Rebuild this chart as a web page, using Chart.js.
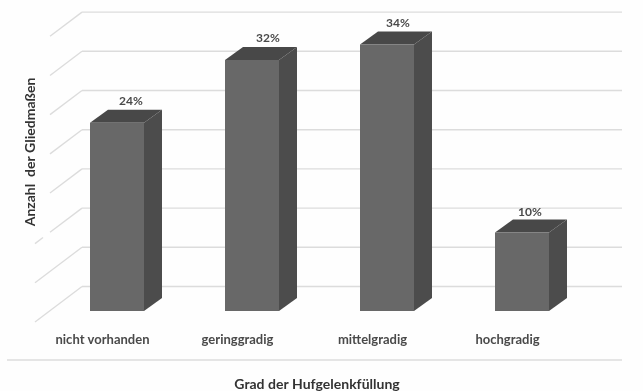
<!DOCTYPE html>
<html lang="de">
<head>
<meta charset="utf-8">
<title>Grad der Hufgelenkfüllung</title>
<style>
  html, body { margin: 0; padding: 0; background: #fefefe; }
  canvas { display: block; }
</style>
<script src="https://cdn.jsdelivr.net/npm/chart.js@4/dist/chart.umd.min.js"></script>
</head>
<body>
<canvas id="chart" width="643" height="391"></canvas>
<script>
const categories = ["nicht vorhanden", "geringgradig", "mittelgradig", "hochgradig"];
const percentages = [24, 32, 34, 10];
const valueAxisTitle = "Anzahl  der Gliedmaßen";
const categoryAxisTitle = "Grad der Hufgelenkfüllung";

const FONT = "Lato, 'Open Sans', sans-serif";
const DEPTH_X = 18;
const DEPTH_Y = 13;
const WALL_X = 82;
const WALL_RIGHT = 622;
const WALL_RISE = 24.5;
const SIDE_SLOPE = 0.755;
const GRID_COLOR = "#dcdcdc";
// Horizontal and vertical nudges that seat each value label over its bar top.
const LABEL_SHIFT_X = [14, 16, 11, 8];
const LABEL_SHIFT_Y = [-22, -22, -21, -20];

function polygon(ctx, points, fill) {
  ctx.beginPath();
  points.forEach(([x, y], i) => (i ? ctx.lineTo(x, y) : ctx.moveTo(x, y)));
  ctx.closePath();
  ctx.fillStyle = fill;
  ctx.fill();
}

function segment(ctx, x1, y1, x2, y2) {
  ctx.beginPath();
  ctx.moveTo(x1, y1);
  ctx.lineTo(x2, y2);
  ctx.stroke();
}

// Back wall grid, floor and side wall lines, extruded bar faces.
const extrusion = {
  id: "extrusion",
  beforeDatasetsDraw(chart) {
    const { ctx, scales: { y } } = chart;
    ctx.save();
    ctx.strokeStyle = GRID_COLOR;
    ctx.lineWidth = 1.4;
    y.ticks.forEach(({ value }) => {
      const wallY = y.getPixelForValue(value) - WALL_RISE;
      segment(ctx, WALL_X, wallY, WALL_RIGHT, wallY);
      const sideAt = (x) => wallY + (WALL_X - x) * SIDE_SLOPE;
      if (value >= 15) {
        segment(ctx, 50, sideAt(50), WALL_X, wallY);
      } else if (value === 10) {
        segment(ctx, 50, sideAt(50), WALL_X, wallY);
        segment(ctx, 35, sideAt(35), 43, sideAt(43));
      } else {
        segment(ctx, 35, sideAt(35), WALL_X, wallY);
      }
    });
    segment(ctx, 7, 360, WALL_RIGHT, 360);

    chart.getDatasetMeta(0).data.forEach((bar) => {
      const half = bar.width / 2;
      const left = bar.x - half;
      const right = bar.x + half;
      polygon(ctx, [[right, bar.y], [right + DEPTH_X, bar.y - DEPTH_Y],
        [right + DEPTH_X, bar.base - DEPTH_Y], [right, bar.base]], "#4c4c4c");
      polygon(ctx, [[left, bar.y], [left + DEPTH_X, bar.y - DEPTH_Y],
        [right + DEPTH_X, bar.y - DEPTH_Y], [right, bar.y]], "#484848");
    });
    ctx.restore();
  },
  // Value labels above each bar, plus both axis titles at their own offsets.
  afterDatasetsDraw(chart) {
    const { ctx } = chart;
    ctx.save();
    ctx.textAlign = "center";
    ctx.textBaseline = "middle";
    ctx.fillStyle = "#4a4a4a";
    ctx.font = `bold 12px ${FONT}`;
    chart.getDatasetMeta(0).data.forEach((bar, i) => {
      ctx.fillText(percentages[i] + "%", bar.x + LABEL_SHIFT_X[i], bar.y + LABEL_SHIFT_Y[i]);
    });
    ctx.fillStyle = "#333333";
    ctx.font = `bold 14px ${FONT}`;
    ctx.fillText(categoryAxisTitle, 317, 384.5);
    ctx.translate(30, 152);
    ctx.rotate(-Math.PI / 2);
    ctx.font = `bold 14px ${FONT}`;
    ctx.fillText(valueAxisTitle, 0, 0);
    ctx.restore();
  }
};

new Chart(document.getElementById("chart"), {
  type: "bar",
  data: {
    labels: categories,
    datasets: [{
      data: percentages,
      backgroundColor: "#686868",
      barPercentage: 0.4,
      categoryPercentage: 1
    }]
  },
  options: {
    responsive: false,
    animation: false,
    layout: { padding: { left: 49.5, right: 53.5, top: 36.6, bottom: 0 } },
    plugins: { legend: { display: false }, tooltip: { enabled: false } },
    scales: {
      x: {
        grid: { display: false },
        border: { display: false },
        ticks: {
          padding: 13,
          labelOffset: -14.5,
          color: "#4a4a4a",
          maxRotation: 0,
          font: { family: FONT, size: 13, weight: "bold" }
        },
        afterFit(scale) { scale.height = 80; }
      },
      y: {
        min: 0,
        max: 35,
        grid: { display: false },
        border: { display: false },
        ticks: { stepSize: 5, display: false },
        afterFit(scale) { scale.width = 0; }
      }
    }
  },
  plugins: [extrusion]
});
</script>
</body>
</html>
